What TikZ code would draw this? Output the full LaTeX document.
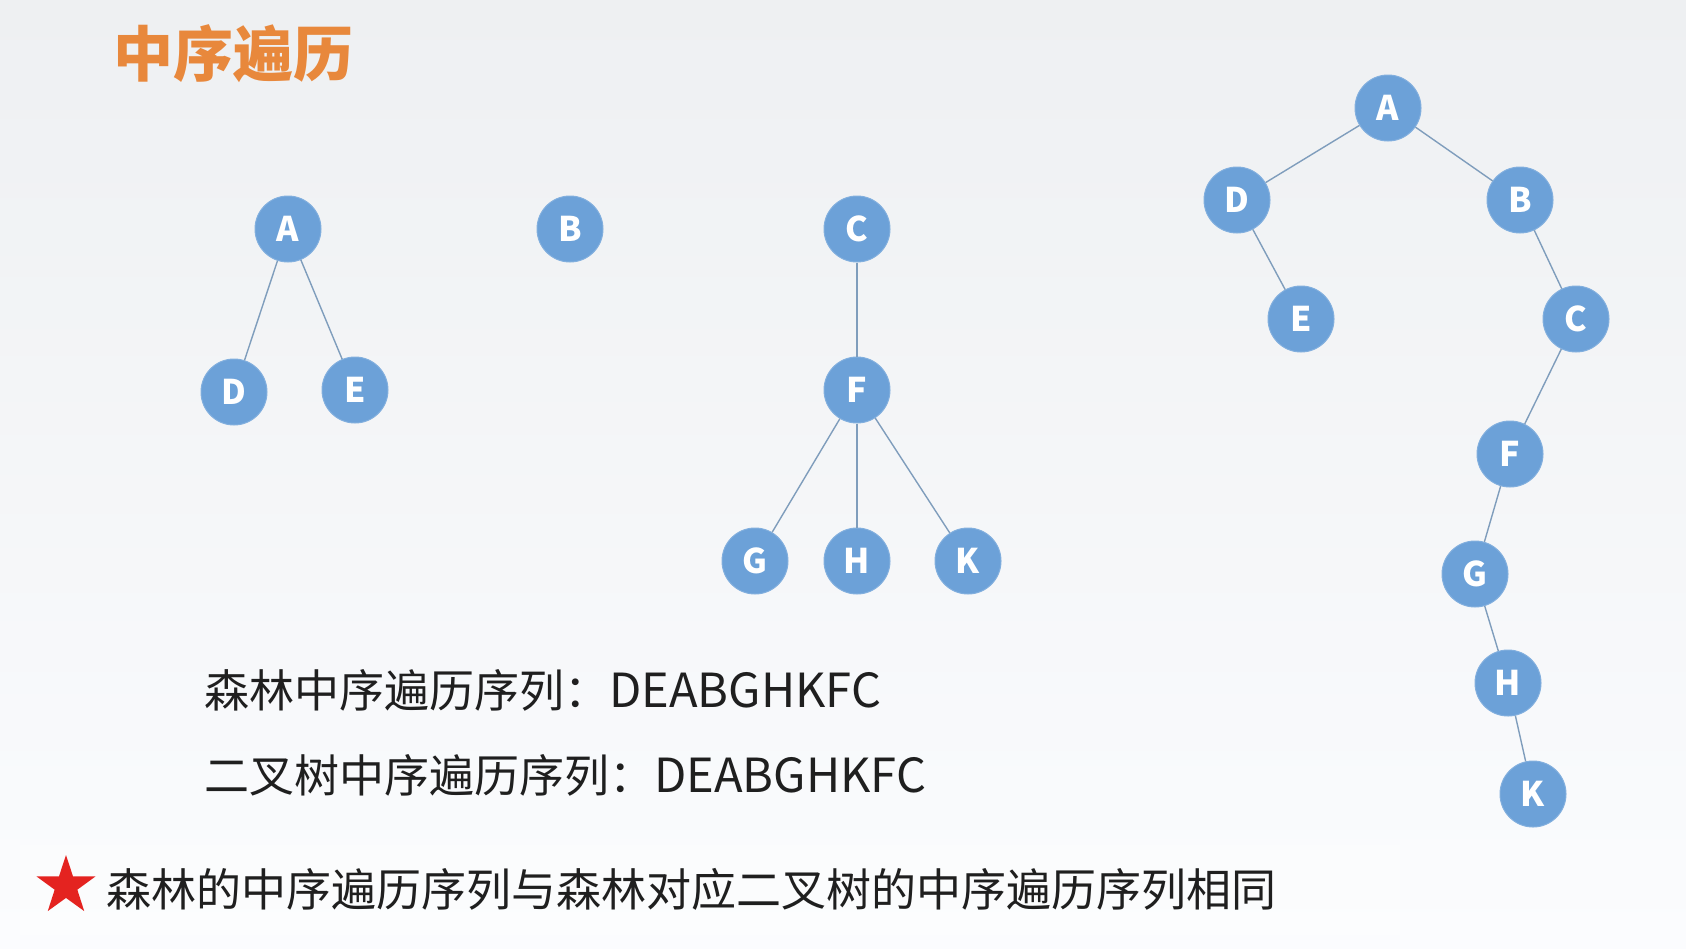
\documentclass[tikz,border=0pt]{standalone}
\usepackage{fontspec}
\setmainfont{Noto Sans CJK SC}
\newfontfamily\cjk{Noto Sans CJK SC}
\usetikzlibrary{shapes.geometric}
\definecolor{nodeblue}{HTML}{6CA1D8}
\definecolor{edgecol}{HTML}{7F9DBC}
\definecolor{titleorange}{HTML}{E8883C}
\definecolor{bgtop}{HTML}{EEF0F2}
\definecolor{bgbot}{HTML}{FBFCFE}
\definecolor{starred}{HTML}{E42320}
\newcommand{\latn}[1]{{\fontsize{47}{50}\selectfont #1}}
\tikzset{
  tn/.style={circle, fill=nodeblue, draw=nodeblue!85!white, line width=1pt, minimum size=66pt, inner sep=0pt,
    text=white, font=\cjk\bfseries\fontsize{34}{34}\selectfont},
  edge/.style={draw=edgecol, line width=1.4pt},
  body/.style={anchor=west, inner sep=0pt, text=black!88, font=\cjk\fontsize{45}{50}\selectfont},
}
\begin{document}
\begin{tikzpicture}[x=1pt,y=-1pt]
\fill[top color=bgtop, bottom color=bgbot] (0,0) rectangle (1686,948);
\useasboundingbox (0,0) rectangle (1686,948);
\fill[white, opacity=0.35] (20,845) rectangle (1400,935);
% title
\node[anchor=west, inner sep=0pt, text=titleorange, font=\cjk\bfseries\fontsize{60}{64}\selectfont] (title) at (113,54) {中序遍历};
% forest
\node[tn] (fA) at (288,229) {A};
\node[tn] (fD) at (234,392) {D};
\node[tn] (fE) at (355,390) {E};
\node[tn] (fB) at (570,229) {B};
\node[tn] (fC) at (857,229) {C};
\node[tn] (fF) at (857,390) {F};
\node[tn] (fG) at (755,561) {G};
\node[tn] (fH) at (857,561) {H};
\node[tn] (fK) at (968,561) {K};
\draw[edge] (fA) -- (fD);
\draw[edge] (fA) -- (fE);
\draw[edge] (fC) -- (fF);
\draw[edge] (fF) -- (fG);
\draw[edge] (fF) -- (fH);
\draw[edge] (fF) -- (fK);
% binary tree
\node[tn] (bA) at (1388,108) {A};
\node[tn] (bD) at (1237,200) {D};
\node[tn] (bB) at (1520,200) {B};
\node[tn] (bE) at (1301,319) {E};
\node[tn] (bC) at (1576,319) {C};
\node[tn] (bF) at (1510,454) {F};
\node[tn] (bG) at (1475,574) {G};
\node[tn] (bH) at (1508,683) {H};
\node[tn] (bK) at (1533,794) {K};
\draw[edge] (bA) -- (bD);
\draw[edge] (bA) -- (bB);
\draw[edge] (bD) -- (bE);
\draw[edge] (bB) -- (bC);
\draw[edge] (bC) -- (bF);
\draw[edge] (bF) -- (bG);
\draw[edge] (bG) -- (bH);
\draw[edge] (bH) -- (bK);
% texts
\node[body] (t1) at (204,690) {森林中序遍历序列：\latn{DEABGHKFC}};
\node[body] (t2) at (204,775) {二叉树中序遍历序列：\latn{DEABGHKFC}};
\node[star, star points=5, star point ratio=2.6, fill=starred, minimum size=62pt, inner sep=0pt] (star) at (66,886) {};
\node[body] (t3) at (106,889) {森林的中序遍历序列与森林对应二叉树的中序遍历序列相同};
\end{tikzpicture}
\end{document}
